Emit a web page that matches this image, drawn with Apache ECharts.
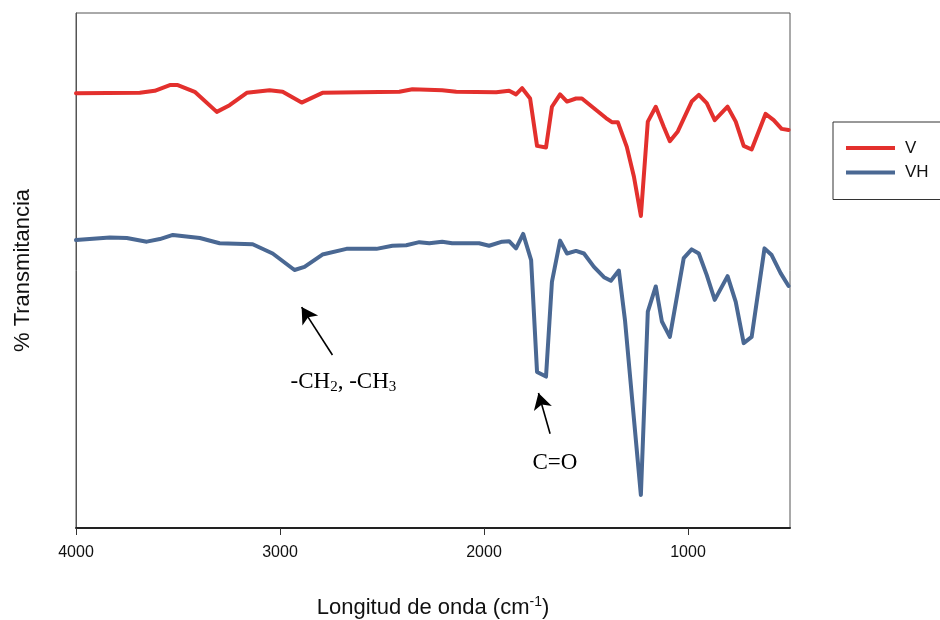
<!DOCTYPE html>
<html>
<head>
<meta charset="utf-8">
<script src="https://cdn.jsdelivr.net/npm/echarts@6/dist/echarts.min.js"></script>
<style>html,body{margin:0;padding:0;background:#fff}#c{width:940px;height:620px}</style>
</head>
<body>
<div id="c"></div>
<script>
var seriesNames = ['V', 'VH'];
var xTickValues = [4000, 3000, 2000, 1000];
var vWave  = [4000,3687,3614,3540,3501,3418,3310,3247,3163,3051,2987,2894,2792,2611,2415,2351,2205,2136,1940,1877,1843,1813,1774,1740,1696,1667,1627,1593,1549,1520,1461,1402,1373,1344,1300,1265,1231,1197,1158,1119,1089,1050,982,947,908,869,806,766,727,688,620,580,541,507];
var vTrans = [84.4,84.5,84.9,86.0,86.0,84.7,80.8,82.1,84.5,85.0,84.7,82.6,84.5,84.6,84.7,85.2,85.0,84.7,84.6,84.9,84.2,85.4,83.4,74.2,73.9,81.8,84.2,82.8,83.4,83.4,81.5,79.6,78.8,78.8,74.0,68.2,60.6,78.9,81.8,77.9,75.1,77.0,82.8,84.1,82.5,79.2,81.8,78.9,74.2,73.5,80.4,79.2,77.5,77.3];
var vhWave  = [4000,3834,3751,3653,3589,3525,3393,3296,3134,3036,2929,2880,2792,2674,2527,2449,2381,2317,2268,2205,2156,2024,1975,1911,1877,1843,1808,1769,1740,1696,1667,1627,1593,1549,1510,1461,1412,1378,1339,1309,1275,1231,1197,1158,1128,1089,1021,982,947,908,869,806,766,727,688,625,590,546,507];
var vhTrans = [55.9,56.4,56.3,55.6,56.1,56.9,56.3,55.3,55.1,53.3,50.1,50.7,53.1,54.2,54.2,54.8,54.9,55.5,55.3,55.6,55.3,55.3,54.8,55.6,55.7,54.3,57.1,52.0,30.3,29.4,47.8,55.8,53.3,53.8,53.3,50.7,48.7,48.0,50.0,40.4,25.5,6.4,42.0,46.9,40.1,37.1,52.4,54.1,53.3,49.1,44.3,48.9,43.9,35.9,37.1,54.3,53.0,49.5,47.0];
var xTitle = 'Longitud de onda (cm';
var yTitle = '% Transmitancia';
var ann1 = {text: '-CH{s|2}, -CH{s|3}', at: [2689, 28.3], from: [2743, 33.6], to: [2894, 42.9]};
var ann2 = {text: 'C=O', at: [1652, 12.7], from: [1676, 18.3], to: [1733, 26.2]};

function pairs(xs, ys) { return xs.map(function (x, i) { return [x, ys[i]]; }); }

var serifLabel = {
  show: true, position: 'inside', color: '#000',
  fontFamily: 'Liberation Serif', fontSize: 23,
  rich: { s: { fontFamily: 'Liberation Serif', fontSize: 15, color: '#000', padding: [10, 0, 0, 0] } }
};

var chart = echarts.init(document.getElementById('c'), null, {renderer: 'canvas'});
chart.setOption({
  backgroundColor: '#ffffff',
  animation: false,
  grid: { left: 76, right: 150, top: 13, bottom: 92, containLabel: false, outerBoundsMode: 'none',
    show: true, borderColor: '#555', borderWidth: 1, backgroundColor: 'transparent' },
  legend: {
    orient: 'vertical', left: 833, top: 122,
    data: seriesNames,
    icon: 'rect', itemWidth: 49, itemHeight: 4, itemGap: 4.5,
    padding: [16, 80, 17, 13],
    borderColor: '#333', borderWidth: 1,
    textStyle: { fontFamily: 'Liberation Sans', fontSize: 17, color: '#111', lineHeight: 20, padding: [0, 0, 0, 5] }
  },
  xAxis: {
    type: 'value', inverse: true, min: 500, max: 4000, splitNumber: 4,
    name: xTitle + '{sup|-1})', nameLocation: 'middle', nameGap: 67,
    nameTextStyle: { fontFamily: 'Liberation Sans', fontSize: 22, color: '#111',
      rich: { sup: { fontFamily: 'Liberation Sans', fontSize: 14, color: '#111', padding: [0, 0, 12, 0] } } },
    axisLine: { show: true, lineStyle: { color: '#222', width: 2 } },
    axisTick: { show: true, length: 7, customValues: xTickValues, lineStyle: { color: '#333', width: 1 } },
    axisLabel: { fontFamily: 'Liberation Sans', fontSize: 16, color: '#111', margin: 17,
      customValues: xTickValues,
      formatter: function (v) { return String(v); } },
    splitLine: { show: false }
  },
  yAxis: {
    type: 'value', min: 0, max: 100,
    name: yTitle, nameLocation: 'middle', nameGap: 42, nameRotate: 90,
    nameTextStyle: { fontFamily: 'Liberation Sans', fontSize: 22, color: '#111' },
    axisLine: { show: true, lineStyle: { color: '#555', width: 1 } },
    axisTick: { show: false }, axisLabel: { show: false }, splitLine: { show: false }
  },
  series: [
    {
      name: seriesNames[0], type: 'line', data: pairs(vWave, vTrans),
      showSymbol: false, symbol: 'none', smooth: false,
      lineStyle: { color: '#e3302d', width: 4, join: 'round', cap: 'round' },
      itemStyle: { color: '#e3302d' },
      markLine: {
        silent: true, symbol: ['none', 'arrow'], symbolSize: [14, 16],
        lineStyle: { color: '#000', width: 1.6, type: 'solid' }, label: { show: false },
        data: [
          [{ coord: ann1.from }, { coord: ann1.to }],
          [{ coord: ann2.from }, { coord: ann2.to }]
        ]
      }
    },
    {
      name: seriesNames[1], type: 'line', data: pairs(vhWave, vhTrans),
      showSymbol: false, symbol: 'none', smooth: false,
      lineStyle: { color: '#4a6893', width: 4, join: 'round', cap: 'round' },
      itemStyle: { color: '#4a6893' },
      markPoint: {
        silent: true, symbol: 'circle', symbolSize: 1, itemStyle: { color: 'rgba(0,0,0,0)' },
        label: serifLabel,
        data: [
          { coord: ann1.at, label: { formatter: ann1.text } },
          { coord: ann2.at, label: { formatter: ann2.text } }
        ]
      }
    }
  ]
});
</script>
</body>
</html>
